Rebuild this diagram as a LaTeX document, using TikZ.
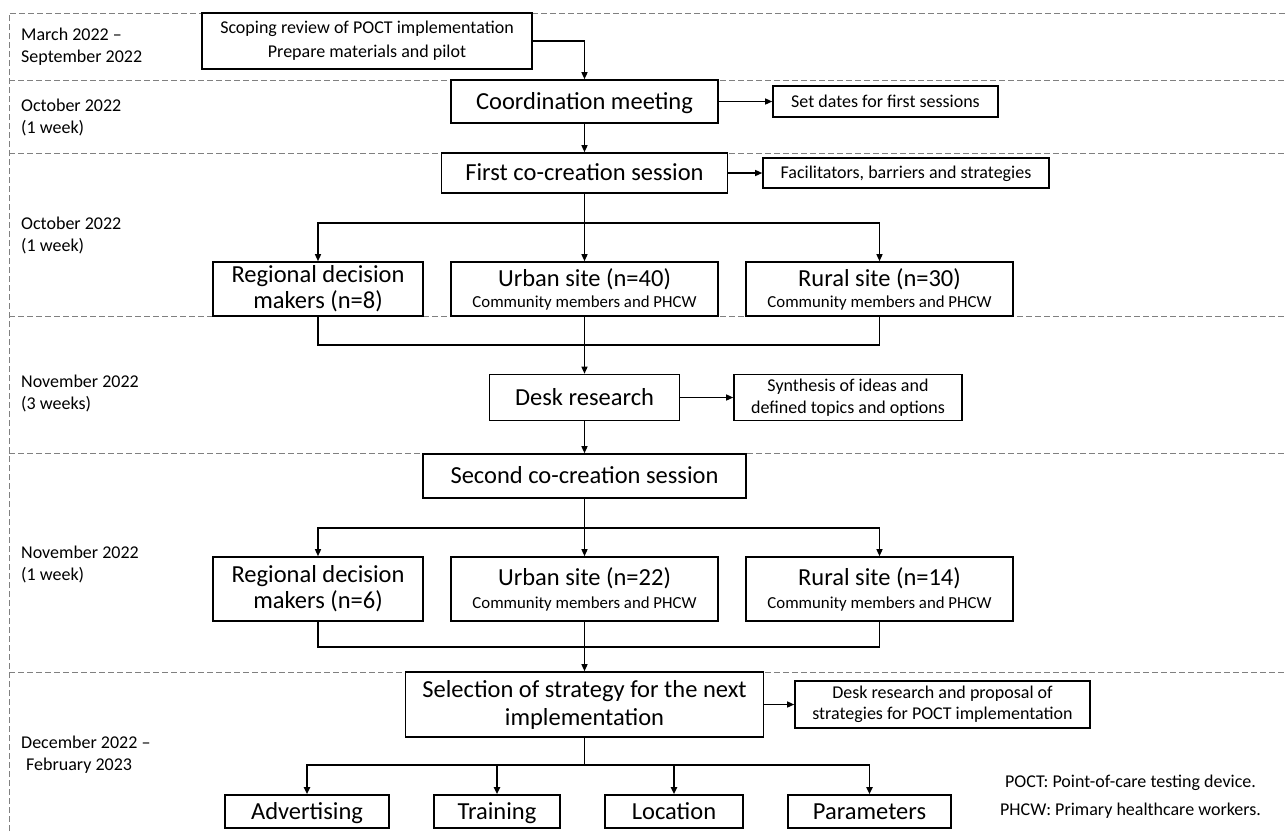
\documentclass[tikz,border=0pt]{standalone}
\usepackage{fontspec}
\setmainfont{Carlito}
\usetikzlibrary{arrows.meta}
\tikzset{
  box/.style={draw=black, line width=1.6pt, fill=white, inner sep=0pt, align=center},
  one/.style={text height=19.6pt, text depth=3.7pt},
  onesm/.style={text height=14.4pt, text depth=2.7pt},
  bigtxt/.style={font=\fontsize{24.5}{26}\selectfont},
  smalltxt/.style={font=\fontsize{18}{22}\selectfont},
  arr/.style={line width=1.3pt, -{Triangle[length=7pt,width=6pt]}},
  plain/.style={line width=1.3pt},
  sep/.style={draw=black!50, line width=0.9pt, dash pattern=on 6pt off 3pt},
  datelbl/.style={anchor=west, inner sep=0pt, align=left, font=\fontsize{18}{22}\selectfont},
}
\newcommand{\smline}{\fontsize{16.8}{18}\selectfont}
\begin{document}
\begin{tikzpicture}[x=1pt,y=-1pt]
\useasboundingbox (0,0) rectangle (1285,831);
\fill[white] (0,0) rectangle (1285,831);
% frame and separators
\draw[sep] (9,831) -- (9,13) -- (1285,13);
\foreach \yy in {80,153,316,453,672} \draw[sep] (9,\yy) -- (1285,\yy);
% date labels
\node[datelbl] (d1) at (21,46.5) {March 2022 --\\September 2022};
\node[datelbl] (d2) at (21,117.5) {October 2022\\(1 week)};
\node[datelbl] (d3) at (21,235) {October 2022\\(1 week)};
\node[datelbl] (d4) at (21,393.5) {November 2022\\(3 weeks)};
\node[datelbl] (d5) at (21,564.5) {November 2022\\(1 week)};
\node[datelbl] (d6) at (21,754.5) {December 2022 --\\\hspace*{5pt}February 2023};
% boxes
\node[box,font=\fontsize{18}{24}\selectfont,minimum width=330pt,minimum height=56pt] (scope) at (367,41) {Scoping review of POCT implementation\\Prepare materials and pilot};
\node[box,bigtxt,one,minimum width=267pt,minimum height=43pt] (coord) at (584.5,101.5) {Coordination meeting};
\node[box,smalltxt,onesm,minimum width=225pt,minimum height=31pt] (setd) at (885.5,101.5) {Set dates for first sessions};
\node[box,bigtxt,one,minimum width=286pt,minimum height=40pt] (first) at (584.5,173) {First co-creation session};
\node[box,smalltxt,onesm,minimum width=286pt,minimum height=30pt] (facil) at (906,173) {Facilitators, barriers and strategies};
\node[box,bigtxt,minimum width=210pt,minimum height=54pt] (reg1) at (318,289) {Regional decision\\makers (n=8)};
\node[box,bigtxt,minimum width=267pt,minimum height=54pt] (urb1) at (584.5,289) {Urban site (n=40)\\[-5pt]{\smline Community members and PHCW}};
\node[box,bigtxt,minimum width=267pt,minimum height=54pt] (rur1) at (879.5,289) {Rural site (n=30)\\[-5pt]{\smline Community members and PHCW}};
\node[box,bigtxt,one,minimum width=190pt,minimum height=46pt] (desk) at (584.5,397.5) {Desk research};
\node[box,font=\fontsize{18}{22}\selectfont,minimum width=228pt,minimum height=46pt] (synth) at (848,397.5) {Synthesis of ideas and\\defined topics and options};
\node[box,bigtxt,one,minimum width=323pt,minimum height=44pt] (second) at (584.5,476) {Second co-creation session};
\node[box,bigtxt,minimum width=210pt,minimum height=64pt] (reg2) at (318,589) {Regional decision\\makers (n=6)};
\node[box,bigtxt,minimum width=267pt,minimum height=64pt] (urb2) at (584.5,589) {Urban site (n=22)\\[-3pt]{\smline Community members and PHCW}};
\node[box,bigtxt,minimum width=267pt,minimum height=64pt] (rur2) at (879.5,589) {Rural site (n=14)\\[-3pt]{\smline Community members and PHCW}};
\node[box,font=\fontsize{24.5}{28}\selectfont,minimum width=358pt,minimum height=65pt] (sel) at (584.5,704.5) {Selection of strategy for the next\\implementation};
\node[box,font=\fontsize{18}{21}\selectfont,minimum width=295pt,minimum height=47pt] (prop) at (942.5,704.5) {Desk research and proposal of\\strategies for POCT implementation};
\node[box,bigtxt,one,minimum width=164pt,minimum height=33pt] (adv) at (307,811.5) {Advertising};
\node[box,bigtxt,one,minimum width=126pt,minimum height=33pt] (train) at (497,811.5) {Training};
\node[box,bigtxt,one,minimum width=138pt,minimum height=33pt] (loc) at (674,811.5) {Location};
\node[box,bigtxt,one,minimum width=163pt,minimum height=33pt] (param) at (869.5,811.5) {Parameters};
% footnotes
\node[inner sep=0pt,font=\fontsize{18}{22}\selectfont] (fn1) at (1130.5,783) {POCT: Point-of-care testing device.};
\node[inner sep=0pt,font=\fontsize{18}{22}\selectfont] (fn2) at (1130.5,811) {PHCW: Primary healthcare workers.};
% coordinates
\coordinate (b1) at (584.5,223);
\coordinate (m1) at (584.5,345);
\coordinate (b2) at (584.5,528);
\coordinate (m2) at (584.5,647);
\coordinate (b3) at (584.5,765);
% connectors
\draw[arr] (scope.east) -| (coord.north);
\draw[arr] (coord.east) -- (setd.west);
\draw[arr] (coord.south) -- (first.north);
\draw[arr] (first.east) -- (facil.west);
\draw[arr] (first.south) -- (urb1.north);
\draw[arr] (b1) -| (reg1.north);
\draw[arr] (b1) -| (rur1.north);
\draw[plain] (reg1.south) |- (m1);
\draw[plain] (rur1.south) |- (m1);
\draw[arr] (urb1.south) -- (desk.north);
\draw[arr] (desk.east) -- (synth.west);
\draw[arr] (desk.south) -- (second.north);
\draw[arr] (second.south) -- (urb2.north);
\draw[arr] (b2) -| (reg2.north);
\draw[arr] (b2) -| (rur2.north);
\draw[plain] (reg2.south) |- (m2);
\draw[plain] (rur2.south) |- (m2);
\draw[arr] (urb2.south) -- (sel.north);
\draw[arr] (sel.east) -- (prop.west);
\draw[plain] (sel.south) -- (b3);
\draw[arr,line width=1.7pt] (b3) -| (adv.north);
\draw[arr,line width=1.7pt] (b3) -| (train.north);
\draw[arr,line width=1.7pt] (b3) -| (loc.north);
\draw[arr,line width=1.7pt] (b3) -| (param.north);
\end{tikzpicture}
\end{document}
